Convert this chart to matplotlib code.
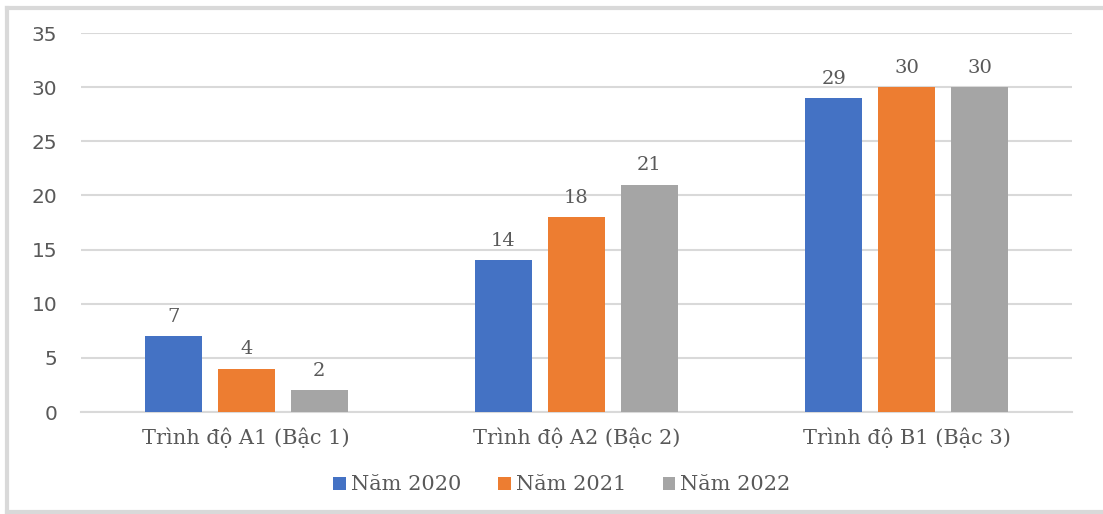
import numpy as np
import matplotlib.pyplot as plt
from matplotlib.lines import Line2D

# Số liệu theo trình độ và năm
categories = ['Trình độ A1 (Bậc 1)', 'Trình độ A2 (Bậc 2)', 'Trình độ B1 (Bậc 3)']
series_names = ['Năm 2020', 'Năm 2021', 'Năm 2022']
values_2020 = [7, 14, 29]
values_2021 = [4, 18, 30]
values_2022 = [2, 21, 30]
y_ticks = [0, 5, 10, 15, 20, 25, 30, 35]

colors = ['#4472C4', '#ED7D31', '#A5A5A5']
text_color = '#595959'
serif = ['DejaVu Serif']
sans = ['DejaVu Sans']

fig = plt.figure(figsize=(11.03, 5.14), dpi=100)
# plot area in figure fractions
ax = fig.add_axes([81 / 1103, 1 - 412 / 514, 991 / 1103, 379 / 514])

# outer frame of the chart: left, top and bottom edges only
fx, fy = 7 / 1103, 1 - 8 / 514
frame_kw = dict(transform=fig.transFigure, color='#D9D9D9', linewidth=3, zorder=0)
fig.lines.append(Line2D([fx, fx], [0.0, fy], **frame_kw))
fig.lines.append(Line2D([fx, 1.0], [fy, fy], **frame_kw))
fig.lines.append(Line2D([fx, 1.0], [0.003, 0.003], **frame_kw))

x = np.arange(len(categories))
width = 0.173
step = 0.221
all_values = [values_2020, values_2021, values_2022]

for i, (name, vals) in enumerate(zip(series_names, all_values)):
    pos = x + (i - 1) * step
    bars = ax.bar(pos, vals, width, color=colors[i], label=name, zorder=3)
    for b, v in zip(bars, vals):
        ax.annotate(str(v), (b.get_x() + b.get_width() / 2, v), xytext=(0, 7.5),
                    textcoords='offset points', ha='center', va='bottom',
                    fontsize=14, color=text_color, family=serif)

ax.set_xlim(-0.5, 2.5)
ax.set_ylim(0, 35)
ax.set_yticks(y_ticks)
ax.set_yticklabels([str(t) for t in y_ticks], family=sans, fontsize=14.5, color=text_color)
ax.set_xticks(x)
ax.set_xticklabels(categories, family=serif, fontsize=15, color=text_color)
ax.tick_params(axis='y', length=0, pad=17)
ax.tick_params(axis='x', length=0, pad=11)

ax.grid(axis='y', color='#D9D9D9', linewidth=1.5, zorder=0)
ax.set_axisbelow(True)
for side in ['top', 'right', 'left']:
    ax.spines[side].set_visible(False)
ax.spines['bottom'].set_color('#D9D9D9')
ax.spines['bottom'].set_linewidth(1.5)

leg = fig.legend(loc='center', bbox_to_anchor=(562 / 1103, 1 - 485 / 514), ncol=3,
                 frameon=False, prop={'family': serif, 'size': 15},
                 handlelength=0.6, handleheight=0.6, handletextpad=0.25, columnspacing=1.75)
for t in leg.get_texts():
    t.set_color(text_color)

fig.savefig('out.png', dpi=100)
